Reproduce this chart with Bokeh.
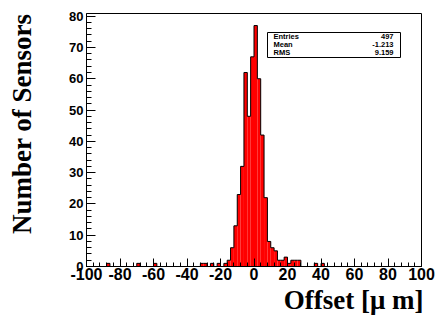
import numpy as np
from bokeh.plotting import figure
from bokeh.models import Range1d, FixedTicker, Label, BoxAnnotation, ColumnDataSource, Title
from bokeh.embed import file_html
from bokeh.resources import INLINE

# Histogram: 100 bins of width 2 from -100 to 100 (only non-zero bins listed)
bin_lo = [-88, -70, -60, -32, -30, -26, -22, -18, -16, -14, -12, -10, -8, -6, -4, -2,
          0, 2, 4, 6, 8, 10, 12, 14, 16, 18, 20, 22, 24, 26, 36, 40]
counts = [1, 1, 1, 1, 1, 1, 1, 1, 2, 6, 13, 23, 32, 62, 48, 67,
          77, 60, 42, 22, 8, 6, 5, 2, 2, 3, 1, 2, 2, 2, 1, 1]
bin_width = 2
stat_names = ["Entries", "Mean", "RMS"]
stat_values = ["497", "-1.213", "9.159"]
x_ticks = [-100, -80, -60, -40, -20, 0, 20, 40, 60, 80, 100]
y_ticks = [0, 10, 20, 30, 40, 50, 60, 70, 80]

edges = np.arange(-100, 100 + bin_width, bin_width)
full = np.zeros(len(edges) - 1)
for lo, c in zip(bin_lo, counts):
    full[int((lo + 100) // bin_width)] = c

p = figure(width=435, height=325, output_backend="svg", toolbar_location=None,
           x_range=Range1d(-100, 100), y_range=Range1d(0, 80.85),
           min_border_left=86, min_border_right=14, min_border_top=13, min_border_bottom=59)
p.background_fill_color = "white"
p.border_fill_color = "white"
p.outline_line_color = "black"
p.outline_line_width = 1
p.xgrid.visible = False
p.ygrid.visible = False

src = ColumnDataSource(dict(left=edges[:-1], right=edges[1:], top=full, bottom=np.zeros_like(full)))
p.quad(left="left", right="right", top="top", bottom="bottom", source=src,
       fill_color="#ff0000", line_color=None)
p.step(x=list(edges), y=list(full) + [0], mode="after", line_color="black", line_width=1)

for ax in (p.xaxis[0], p.yaxis[0]):
    ax.axis_line_color = "black"
    ax.major_tick_out = 0
    ax.minor_tick_out = 0
    ax.major_label_text_font = "Liberation Sans"
    ax.major_label_text_font_style = "bold"
    ax.major_label_text_color = "black"

p.xaxis.ticker = FixedTicker(ticks=x_ticks, minor_ticks=list(range(-100, 101, 4)))
p.yaxis.ticker = FixedTicker(ticks=y_ticks, minor_ticks=list(range(0, 81, 2)))
p.xaxis.major_label_overrides = {t: str(t) for t in x_ticks}
p.xaxis.major_tick_in = 8
p.xaxis.minor_tick_in = 4
p.yaxis.major_tick_in = 9
p.yaxis.minor_tick_in = 5
p.xaxis.major_label_text_font_size = "16px"
p.yaxis.major_label_text_font_size = "13px"
p.xaxis.major_label_standoff = 1
p.yaxis.major_label_standoff = 3

# Axis titles (a blank spacer panel pushes the y title outward)
p.add_layout(Title(text="Offset [\u03bc m]", align="right", offset=-2, standoff=0,
                   text_font="Liberation Serif", text_font_style="bold",
                   text_font_size="27px", text_color="black"), "below")
p.add_layout(Title(text=" ", standoff=26, text_font_size="1px"), "left")
p.add_layout(Title(text="Number of Sensors", align="right", offset=0, standoff=0,
                   vertical_align="middle",
                   text_font="Liberation Serif", text_font_style="bold",
                   text_font_size="27px", text_color="black"), "left")

# Stats box
p.add_layout(BoxAnnotation(left=181, right=314, top=234, bottom=209,
                           left_units="screen", right_units="screen", top_units="screen",
                           bottom_units="screen", fill_color="white", fill_alpha=1,
                           line_color="black", line_width=1, line_alpha=1))
for i, (n, v) in enumerate(zip(stat_names, stat_values)):
    yy = 230.3 - i * 8.2
    p.add_layout(Label(x=187, y=yy, x_units="screen", y_units="screen", text=n,
                       text_align="left", text_baseline="middle", text_font="Liberation Sans",
                       text_font_style="bold", text_font_size="7.5px", text_color="black"))
    p.add_layout(Label(x=307, y=yy, x_units="screen", y_units="screen", text=v,
                       text_align="right", text_baseline="middle", text_font="Liberation Sans",
                       text_font_style="bold", text_font_size="7.5px", text_color="black"))

open("out.html", "w").write(file_html(p, INLINE))
